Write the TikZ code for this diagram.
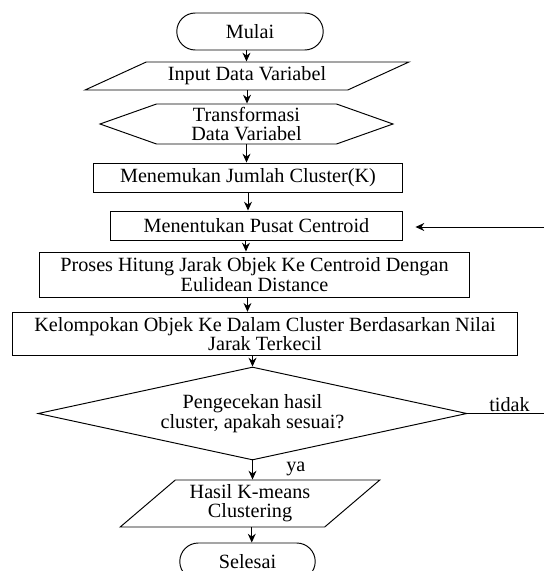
\documentclass[tikz,border=0pt]{standalone}
\usepackage{fontspec}
\setmainfont{Liberation Serif}
\usetikzlibrary{shapes.geometric,shapes.misc,shapes.symbols,positioning,arrows.meta}

\begin{document}
\begin{tikzpicture}[x=0.02cm,y=-0.02cm,->,>={Stealth[length=5pt,width=4.5pt]},line width=0.55pt,
  every node/.style={font=\fontsize{11.5}{11}\selectfont,align=center,inner sep=1pt},
  term node/.style={rounded rectangle,draw,minimum width=3cm,minimum height=0.74cm},
  io node/.style={trapezium,draw,trapezium stretches=true},
  prep node/.style={signal,draw,signal to=west and east,signal pointer angle=39,minimum width=5.86cm,minimum height=0.8cm},
  proc node/.style={rectangle,draw},
  dec node/.style={diamond,draw,aspect=4.6,minimum width=8.58cm,minimum height=1.86cm,inner sep=0pt}]

  \useasboundingbox (0,0) rectangle (544,571);

  \node[term node] (mulai) at (250,31.5) {Mulai};
  \node[io node,trapezium left angle=24,trapezium right angle=156,minimum width=6.48cm,minimum height=0.56cm] (input) at (247,76) {Input Data Variabel};
  \node[prep node] (trans) at (246.5,124) {Transformasi\\Data Variabel};
  \node[proc node,minimum width=6.2cm,minimum height=0.58cm] (jumlah) at (248,177.5) {Menemukan Jumlah Cluster(K)};
  \node[proc node,minimum width=5.86cm,minimum height=0.58cm] (pusat) at (256.5,225.5) {Menentukan Pusat Centroid};
  \node[proc node,minimum width=8.62cm,minimum height=0.9cm] (hitung) at (254.5,274.5) {Proses Hitung Jarak Objek Ke Centroid Dengan\\Eulidean Distance};
  \node[proc node,minimum width=10.12cm,minimum height=0.87cm] (kelompok) at (265,334) {Kelompokan Objek Ke Dalam Cluster Berdasarkan Nilai\\Jarak Terkecil};
  \node[dec node] (cek) at (252.5,413.5) {Pengecekan hasil\\cluster, apakah sesuai?};
  \node[io node,trapezium left angle=42,trapezium right angle=138,minimum width=5.2cm,minimum height=0.94cm] (hasil) at (250,503.5) {Hasil K-means\\Clustering};
  \node[term node,minimum width=2.78cm] (selesai) at (247.5,561.5) {Selesai};

  \coordinate (tidakend) at (544,413.5);
  \coordinate (loopend) at (544,227);

  \draw ([xshift=-2pt]mulai.south) -- ([xshift=-2pt]mulai.south |- input.north);
  \draw (input.south) -- (input.south |- trans.north);
  \draw (trans.south) -- (trans.south |- jumlah.north);
  \draw (jumlah.south) -- (jumlah.south |- pusat.north);
  \draw ([xshift=-6pt]pusat.south) -- ([xshift=-6pt]pusat.south |- hitung.north);
  \draw ([xshift=-4pt]hitung.south) -- ([xshift=-4pt]hitung.south |- kelompok.north);
  \draw (cek.north |- kelompok.south) -- (cek.north);
  \draw (cek.south) -- (cek.south |- hasil.north) node[pos=0.45,right=18pt] {ya};
  \draw ([xshift=1pt]hasil.south) -- ([xshift=1pt]hasil.south |- selesai.north);
  \draw[-] (cek.east) -- (tidakend) node[pos=0.55,above] {tidak};
  \draw[shorten >=0.24cm] (loopend) -- (pusat.east |- loopend);

\end{tikzpicture}
\end{document}
